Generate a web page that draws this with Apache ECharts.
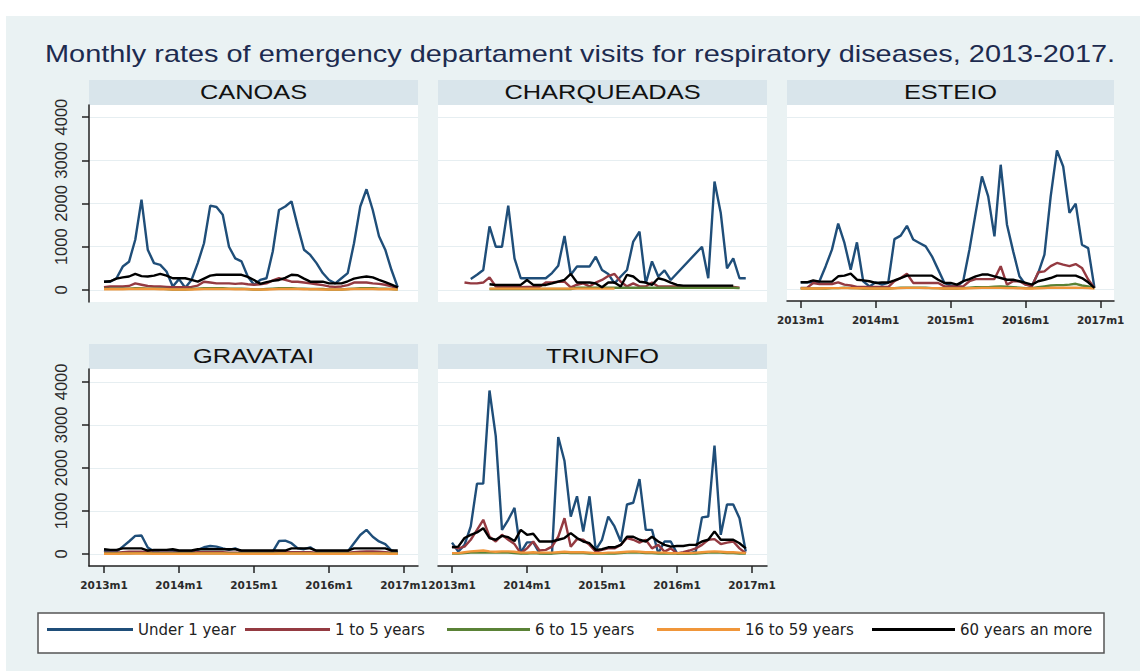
<!DOCTYPE html>
<html>
<head>
<meta charset="utf-8">
<script src="https://cdn.jsdelivr.net/npm/echarts@6/dist/echarts.min.js"></script>
<style>html,body{margin:0;padding:0;background:#fff}#c{width:1140px;height:671px}</style>
</head>
<body>
<div id="c"></div>
<script>
// ---------- DATA ----------
const months = ['2013m1','2013m2','2013m3','2013m4','2013m5','2013m6','2013m7','2013m8','2013m9','2013m10','2013m11','2013m12',
  '2014m1','2014m2','2014m3','2014m4','2014m5','2014m6','2014m7','2014m8','2014m9','2014m10','2014m11','2014m12',
  '2015m1','2015m2','2015m3','2015m4','2015m5','2015m6','2015m7','2015m8','2015m9','2015m10','2015m11','2015m12',
  '2016m1','2016m2','2016m3','2016m4','2016m5','2016m6','2016m7','2016m8','2016m9','2016m10','2016m11','2016m12'];
const xTickValues = [0, 12, 24, 36, 48];
const xTickLabels = ['2013m1', '2014m1', '2015m1', '2016m1', '2017m1'];
const yTickValues = [0, 1000, 2000, 3000, 4000];
const yTickLabels = ['0', '1000', '2000', '3000', '4000'];
const seriesNames = ['Under 1 year', '1 to 5 years', '6 to 15 years', '16 to 59 years', '60 years an more'];
const cities = ['CANOAS', 'CHARQUEADAS', 'ESTEIO', 'GRAVATAI', 'TRIUNFO'];
const chartTitle = 'Monthly rates of emergency departament visits for respiratory diseases, 2013-2017.';

const canoasUnder1 = [190,190,270,540,650,1160,2090,930,620,580,425,80,250,50,230,620,1080,1950,1920,1740,1000,730,660,310,120,230,270,890,1850,1930,2050,1470,930,810,620,390,230,150,270,390,1080,1930,2330,1850,1240,930,460,60];
const canoas1to5 = [60,80,80,80,90,150,120,90,80,80,70,60,60,60,70,100,190,170,150,150,150,140,150,130,120,130,150,220,270,230,190,190,170,150,130,110,80,70,80,110,170,170,170,150,140,120,80,40];
const canoas6to15 = [30,30,30,30,30,40,40,30,30,30,20,10,10,10,20,30,40,40,40,40,30,30,30,20,10,10,20,30,40,40,40,30,30,20,20,20,10,10,10,20,30,40,40,40,30,30,20,10];
const canoas16to59 = [15,15,15,15,20,20,25,20,20,15,15,10,10,10,10,15,20,20,20,20,20,15,15,15,10,10,10,15,20,20,20,20,15,15,15,10,10,10,10,15,20,20,20,20,15,15,15,10];
const canoas60plus = [190,200,260,290,310,370,320,310,330,370,330,270,270,270,230,190,260,330,350,350,350,350,350,300,230,140,180,210,230,280,350,340,260,190,190,190,150,150,150,200,260,290,310,290,230,180,120,60];

const charqUnder1 = [null,null,null,255,350,460,1470,1000,1000,1950,730,270,270,270,270,270,390,560,1250,350,540,540,540,770,460,370,150,310,460,1120,1350,150,660,310,450,230,null,null,null,null,1000,270,2510,1780,500,730,270,270];
const charq1to5 = [null,null,170,150,150,170,290,80,60,60,60,60,70,70,70,170,170,190,190,60,120,150,80,170,230,320,370,190,80,150,80,80,170,80,80,80,80,80,80,80,80,80,80,80,70,70,50,null];
const charq6to15 = [null,null,null,null,null,null,20,20,20,20,20,20,20,20,20,20,20,20,20,20,50,50,50,50,50,50,50,50,50,50,50,50,50,50,50,50,50,50,50,50,50,50,50,50,50,50,40,null];
const charq16to59 = [null,null,null,null,null,null,30,30,30,30,30,30,30,30,30,30,30,30,30,30,30,30,30,30,30,30,30,null,null,null,null,null,null,null,null,null,null,null,null,null,null,null,null,null,null,null,null,null];
const charq60plus = [null,null,null,null,null,null,130,115,115,115,115,115,230,115,115,115,150,190,230,370,170,170,170,150,60,170,170,80,350,310,190,170,115,270,230,170,115,100,100,100,100,100,100,100,100,100,null,null];

const esteioUnder1 = [155,155,155,180,530,915,1520,1070,450,1085,180,60,155,100,140,1160,1240,1470,1150,1070,990,760,450,140,80,60,180,915,1770,2620,2155,1225,2890,1500,875,295,100,80,370,800,2155,3225,2850,1770,1985,1030,950,25];
const esteio1to5 = [25,25,140,115,115,115,155,100,80,45,45,45,45,45,45,180,255,355,140,140,140,140,140,60,60,60,60,180,230,230,230,230,530,100,180,180,100,60,390,410,530,605,565,530,580,490,220,25];
const esteio6to15 = [10,10,10,10,10,20,20,30,20,20,10,10,10,10,10,20,30,30,30,30,30,20,20,10,10,10,20,30,40,40,40,50,60,50,40,30,20,20,40,60,80,90,90,100,120,80,60,20];
const esteio16to59 = [10,10,10,10,15,20,20,20,20,15,15,10,10,10,10,15,20,25,25,25,20,20,15,10,10,10,10,15,20,25,25,25,25,20,20,15,10,10,15,20,30,30,30,30,30,25,20,10];
const esteio60plus = [155,155,200,170,170,170,295,310,355,215,200,180,140,150,150,200,255,310,310,310,310,310,215,140,140,100,180,230,295,335,335,295,255,215,215,180,140,100,180,215,255,310,310,310,310,255,155,25];

const gravUnder1 = [80,55,55,170,290,420,430,150,55,80,80,80,55,55,55,95,155,185,170,130,95,130,55,55,55,55,55,55,300,310,250,130,110,155,55,55,55,55,55,55,250,440,560,400,290,230,80,40];
const grav1to5 = [30,30,30,40,50,50,50,40,30,30,30,30,30,30,30,40,40,40,40,40,30,30,30,30,30,30,30,30,40,40,40,40,40,40,30,30,30,30,30,30,40,50,60,60,50,40,30,20];
const grav6to15 = [10,10,10,15,15,20,20,15,10,10,10,10,10,10,10,15,15,15,15,15,10,10,10,10,10,10,10,10,15,15,15,15,15,15,10,10,10,10,10,10,15,20,20,20,15,15,10,10];
const grav16to59 = [5,5,5,10,10,10,10,10,5,5,5,5,5,5,5,10,10,10,10,10,5,5,5,5,5,5,5,5,10,10,10,10,10,10,5,5,5,5,5,5,10,10,10,10,10,10,5,5];
const grav60plus = [110,95,95,130,130,130,130,80,95,95,95,110,80,80,80,110,110,110,110,110,110,110,80,80,80,80,80,80,80,80,130,130,130,130,80,80,80,80,80,80,130,130,130,130,130,130,80,80];

const triunfoUnder1 = [265,55,210,640,1635,1635,3800,2740,560,795,1070,30,270,270,20,15,15,2720,2160,870,1340,520,1340,95,330,870,640,290,1150,1190,1740,560,560,15,290,290,15,15,15,55,850,870,2520,445,1150,1150,830,55];
const triunfo1to5 = [170,130,170,330,560,795,400,290,445,330,230,15,130,290,80,95,170,400,830,170,345,330,210,55,95,130,130,210,370,330,265,330,130,210,55,130,15,40,80,130,210,330,345,230,265,290,130,15];
const triunfo6to15 = [10,10,20,30,30,40,30,30,30,30,20,10,10,20,10,10,10,20,30,20,20,20,10,10,10,10,10,20,30,30,30,20,20,10,10,10,10,10,10,10,20,30,30,30,20,20,10,10];
const triunfo16to59 = [20,20,40,60,70,80,60,50,60,60,50,30,30,40,30,30,30,40,50,40,40,40,30,20,20,30,30,40,50,60,50,40,40,30,30,20,20,20,20,30,40,50,60,50,40,40,30,20];
const triunfo60plus = [155,170,370,445,500,600,370,330,420,390,300,560,445,470,290,290,290,330,370,485,370,290,250,95,110,155,155,210,400,400,330,290,400,290,210,170,185,185,210,210,290,330,525,330,330,330,250,130];

// ---------- STYLE / LAYOUT ----------
const colors = ['#1f4e79', '#943a41', '#5a8236', '#f0963a', '#000000'];
const cityData = [
  [canoasUnder1, canoas1to5, canoas6to15, canoas16to59, canoas60plus],
  [charqUnder1, charq1to5, charq6to15, charq16to59, charq60plus],
  [esteioUnder1, esteio1to5, esteio6to15, esteio16to59, esteio60plus],
  [gravUnder1, grav1to5, grav6to15, grav16to59, grav60plus],
  [triunfoUnder1, triunfo1to5, triunfo6to15, triunfo16to59, triunfo60plus]
];
const panels = [
  {left: 89,  top: 105, width: 329, height: 197, xMin: -2.4,  yMin: -280, yMax: 4280, showX: false, showY: true},
  {left: 438, top: 105, width: 329, height: 197, xMin: -2.24, yMin: -280, yMax: 4280, showX: false, showY: false},
  {left: 787, top: 105, width: 327, height: 196, xMin: -2.19, yMin: -280, yMax: 4280, showX: true,  showY: false},
  {left: 89,  top: 369, width: 329, height: 197, xMin: -2.4,  yMin: -280, yMax: 4300, showX: true,  showY: true},
  {left: 438, top: 369, width: 329, height: 197, xMin: -2.24, yMin: -280, yMax: 4300, showX: true,  showY: false}
];
const pxPerMonth = 6.25;
const axisColor = '#222';
const legendLefts = [47, 245, 447, 657, 872];
const legendWidths = [86, 85, 83, 83, 83];

const grids = [], xAxes = [], yAxes = [], series = [], graphics = [];

graphics.push({type: 'rect', shape: {x: 6, y: 16, width: 1134, height: 655}, style: {fill: '#eaf2f3'}, z: -10, silent: true});
graphics.push({type: 'text', x: 45, y: 54, scaleX: 1.205, z: 10,
  style: {text: chartTitle, fontSize: 24, fontFamily: 'Liberation Sans', fill: '#1d2b4f', textAlign: 'left', textVerticalAlign: 'middle'}});
graphics.push({type: 'rect', shape: {x: 38, y: 613, width: 1066, height: 40}, style: {fill: '#ffffff', stroke: '#555', lineWidth: 1.5}, z: -5, silent: true});

panels.forEach((p, g) => {
  grids.push({left: p.left, top: p.top, width: p.width, height: p.height, show: true, backgroundColor: '#ffffff', borderWidth: 0, containLabel: false});
  const stripTop = p.top - 25;
  graphics.push({type: 'rect', shape: {x: p.left, y: stripTop, width: p.width, height: 25}, style: {fill: '#d9e5eb'}, z: -4, silent: true});
  graphics.push({type: 'text', x: p.left + p.width / 2, y: stripTop + 12, scaleX: 1.21, z: 10,
    style: {text: cities[g], fontSize: 21, fontFamily: 'Liberation Sans', fill: '#111', textAlign: 'center', textVerticalAlign: 'middle'}});
  xAxes.push({
    gridIndex: g, type: 'value', min: p.xMin, max: p.xMin + p.width / pxPerMonth, show: p.showX,
    axisLine: {show: true, onZero: false, lineStyle: {color: axisColor, width: 1.5}},
    axisTick: {show: true, length: 7, customValues: xTickValues, lineStyle: {color: axisColor, width: 1.5}},
    axisLabel: {show: true, customValues: xTickValues, margin: 13, fontSize: 10.5, fontWeight: 'bold', fontFamily: 'DejaVu Sans', color: '#2a2a2a',
      formatter: v => xTickLabels[xTickValues.indexOf(Math.round(v))] || ''},
    splitLine: {show: false}
  });
  yAxes.push({
    gridIndex: g, type: 'value', min: p.yMin, max: p.yMax,
    axisLine: {show: p.showY, onZero: false, lineStyle: {color: axisColor, width: 1.5}},
    axisTick: {show: p.showY, length: 7, customValues: yTickValues, lineStyle: {color: axisColor, width: 1.5}},
    axisLabel: {show: p.showY, customValues: yTickValues, rotate: 90, margin: 20, fontSize: 16.5, fontFamily: 'Liberation Sans', color: '#2a2a2a',
      hideOverlap: false, formatter: v => yTickLabels[yTickValues.indexOf(Math.round(v))] || ''},
    splitLine: {show: true, lineStyle: {color: '#e6eef1', width: 1}}
  });
  cityData[g].forEach((arr, k) => {
    series.push({
      name: seriesNames[k], type: 'line', xAxisIndex: g, yAxisIndex: g,
      data: arr.map((v, i) => [i, v === null ? '-' : v]),
      showSymbol: false, symbol: 'none', connectNulls: true, smooth: false,
      lineStyle: {width: 2.4, color: colors[k]}, itemStyle: {color: colors[k]},
      emphasis: {disabled: true}, animation: false, z: 2 + k
    });
  });
});

const legends = seriesNames.map((n, k) => ({
  data: [n], left: legendLefts[k], top: 622, padding: 0, icon: 'rect',
  itemWidth: legendWidths[k], itemHeight: 3, selectedMode: false,
  textStyle: {fontSize: 15, fontFamily: 'DejaVu Sans', color: '#222'}
}));

const chart = echarts.init(document.getElementById('c'), null, {renderer: 'svg'});
chart.setOption({
  backgroundColor: '#ffffff',
  animation: false,
  color: colors,
  grid: grids, xAxis: xAxes, yAxis: yAxes, series: series,
  legend: legends,
  graphic: graphics
});
</script>
</body>
</html>
